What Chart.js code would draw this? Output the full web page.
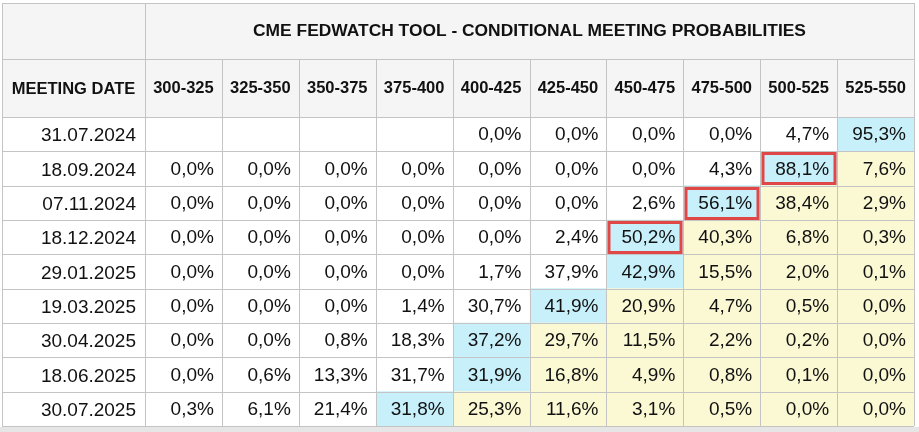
<!DOCTYPE html>
<html>
<head>
<meta charset="utf-8">
<script src="https://cdn.jsdelivr.net/npm/chart.js@4.4.1/dist/chart.umd.min.js"></script>
<style>
html,body{margin:0;padding:0;background:#fff;}
#wrap{width:919px;height:432px;position:relative;}
</style>
</head>
<body>
<div id="wrap"><canvas id="c" width="919" height="432"></canvas></div>
<script>
// ---------- data ----------
const tableTitle = 'CME FEDWATCH TOOL - CONDITIONAL MEETING PROBABILITIES';
const dateHeader = 'MEETING DATE';
const rateRanges = ['300-325','325-350','350-375','375-400','400-425','425-450','450-475','475-500','500-525','525-550'];
const meetingDates = ['31.07.2024','18.09.2024','07.11.2024','18.12.2024','29.01.2025','19.03.2025','30.04.2025','18.06.2025','30.07.2025'];

const prob_31_07_2024 = [null, null, null, null, 0.0, 0.0, 0.0, 0.0, 4.7, 95.3];
const prob_18_09_2024 = [0.0, 0.0, 0.0, 0.0, 0.0, 0.0, 0.0, 4.3, 88.1, 7.6];
const prob_07_11_2024 = [0.0, 0.0, 0.0, 0.0, 0.0, 0.0, 2.6, 56.1, 38.4, 2.9];
const prob_18_12_2024 = [0.0, 0.0, 0.0, 0.0, 0.0, 2.4, 50.2, 40.3, 6.8, 0.3];
const prob_29_01_2025 = [0.0, 0.0, 0.0, 0.0, 1.7, 37.9, 42.9, 15.5, 2.0, 0.1];
const prob_19_03_2025 = [0.0, 0.0, 0.0, 1.4, 30.7, 41.9, 20.9, 4.7, 0.5, 0.0];
const prob_30_04_2025 = [0.0, 0.0, 0.8, 18.3, 37.2, 29.7, 11.5, 2.2, 0.2, 0.0];
const prob_18_06_2025 = [0.0, 0.6, 13.3, 31.7, 31.9, 16.8, 4.9, 0.8, 0.1, 0.0];
const prob_30_07_2025 = [0.3, 6.1, 21.4, 31.8, 25.3, 11.6, 3.1, 0.5, 0.0, 0.0];

const probabilityRows = [prob_31_07_2024, prob_18_09_2024, prob_07_11_2024, prob_18_12_2024,
  prob_29_01_2025, prob_19_03_2025, prob_30_04_2025, prob_18_06_2025, prob_30_07_2025];

const highlightedMeetings = ['18.09.2024', '07.11.2024', '18.12.2024'];

// ---------- styles ----------
const FONT = "'Liberation Sans', Arial, Helvetica, sans-serif";
const TEXT = '#111111';
const GRID = '#c4c4c4';
const HEADER_BG = '#f5f5f6';
const MAX_BG = '#c8f0fa';
const ABOVE_BG = '#fbf8d4';
const CELL_BG = '#ffffff';
const RED = '#e04848';

function maxIndex(row) {
  let mi = -1, mv = -Infinity;
  row.forEach((v, i) => { if (v !== null && v > mv) { mv = v; mi = i; } });
  return mi;
}
function cellColor(r, c) {
  const row = probabilityRows[r];
  const mi = maxIndex(row);
  if (row[c] === null) return CELL_BG;
  if (c === mi) return MAX_BG;
  if (c > mi) return ABOVE_BG;
  return CELL_BG;
}
function fmt(v) { return v.toFixed(1).replace('.', ',') + '%'; }

const datasets = rateRanges.map((rate, c) => ({
  label: rate,
  data: meetingDates.map(() => 1),
  backgroundColor: ctx => cellColor(ctx.dataIndex, c),
  borderWidth: 0,
  barPercentage: 1,
  categoryPercentage: 1,
  xAxisID: 'x',
  yAxisID: 'y'
}));

function fixBox(w, h) {
  return s => {
    if (w !== null) s.width = w;
    if (h !== null) s.height = h;
    s.paddingTop = 0; s.paddingBottom = 0; s.paddingLeft = 0; s.paddingRight = 0;
  };
}

const tablePlugin = {
  id: 'tablePlugin',
  beforeDraw(chart) {
    const {ctx, width, height} = chart;
    const x2 = chart.scales.x2, y = chart.scales.y;
    ctx.save();
    ctx.fillStyle = '#ffffff';
    ctx.fillRect(0, 0, width, height);
    ctx.fillStyle = HEADER_BG;
    ctx.fillRect(y.left, x2.top, x2.right - y.left, x2.bottom - x2.top);
    ctx.fillStyle = '#e6e6e6';
    ctx.fillRect(0, chart.chartArea.bottom + 1, width, height - chart.chartArea.bottom - 1);
    ctx.restore();
  },
  afterDatasetsDraw(chart) {
    const {ctx, chartArea} = chart;
    const xs = chart.scales.x, x2 = chart.scales.x2, ys = chart.scales.y;
    const left = ys.left, right = xs.getPixelForValue(rateRanges.length);
    const top = x2.top, bottom = chartArea.bottom;
    const split = Math.round(x2.top + (x2.bottom - x2.top) / 2) - 1;
    const px = v => Math.round(v) + 0.5;
    ctx.save();
    ctx.strokeStyle = GRID;
    ctx.lineWidth = 1;
    ctx.beginPath();
    [top, split].forEach(yy => { ctx.moveTo(left, px(yy)); ctx.lineTo(right, px(yy)); });
    for (let r = 0; r <= meetingDates.length; r++) {
      const yy = ys.getPixelForValue(r - 0.5);
      ctx.moveTo(left, px(yy)); ctx.lineTo(right, px(yy));
    }
    ctx.moveTo(px(left), top); ctx.lineTo(px(left), bottom);
    for (let c = 0; c <= rateRanges.length; c++) {
      const xx = xs.getPixelForValue(c);
      const y0 = (c === 0 || c === rateRanges.length) ? top : split;
      ctx.moveTo(px(xx), y0); ctx.lineTo(px(xx), bottom);
    }
    ctx.stroke();

    ctx.fillStyle = TEXT;
    ctx.font = 'bold 16.5px ' + FONT;
    ctx.textAlign = 'center';
    ctx.textBaseline = 'middle';
    ctx.fillText(dateHeader, (left + xs.getPixelForValue(0)) / 2, (split + x2.bottom) / 2 + 1);

    ctx.font = '19px ' + FONT;
    ctx.textAlign = 'right';
    probabilityRows.forEach((row, r) => {
      const yc = ys.getPixelForValue(r);
      row.forEach((v, c) => {
        if (v === null) return;
        ctx.fillText(fmt(v), xs.getPixelForValue(c + 1) - 8, yc + 1);
      });
    });

    ctx.strokeStyle = RED;
    ctx.lineWidth = 3;
    highlightedMeetings.forEach(d => {
      const r = meetingDates.indexOf(d);
      if (r < 0) return;
      const c = maxIndex(probabilityRows[r]);
      const x0 = xs.getPixelForValue(c), x1 = xs.getPixelForValue(c + 1);
      const y0 = ys.getPixelForValue(r - 0.5), y1 = ys.getPixelForValue(r + 0.5);
      ctx.strokeRect(Math.round(x0) + 3, Math.round(y0) + 2.5, Math.round(x1 - x0) - 5, Math.round(y1 - y0) - 4);
    });
    ctx.restore();
  }
};

new Chart(document.getElementById('c'), {
  type: 'bar',
  data: { labels: meetingDates, datasets },
  options: {
    indexAxis: 'y',
    responsive: false,
    animation: false,
    events: [],
    layout: { padding: { left: 2, top: 3, right: 5, bottom: 6 } },
    plugins: { legend: { display: false }, tooltip: { enabled: false }, title: { display: false } },
    scales: {
      x: { type: 'linear', stacked: true, min: 0, max: rateRanges.length, display: false },
      x2: {
        type: 'category', labels: rateRanges, position: 'top', offset: true,
        grid: { display: false, drawTicks: false }, border: { display: false },
        ticks: { font: { family: FONT, size: 16.5, weight: 'bold' }, color: TEXT, padding: 19, maxRotation: 0, autoSkip: false },
        title: { display: true, text: tableTitle, color: TEXT, font: { family: FONT, size: 17.4, weight: 'bold' }, padding: { top: 18, bottom: 0 } },
        afterFit: fixBox(null, 114)
      },
      y: {
        type: 'category', stacked: true, offset: true,
        grid: { display: false, drawTicks: false }, border: { display: false },
        ticks: { font: { family: FONT, size: 19 }, color: TEXT, padding: 9, crossAlign: 'near', autoSkip: false, labelOffset: 2 },
        afterFit: fixBox(143, null)
      }
    }
  },
  plugins: [tablePlugin]
});
</script>
</body>
</html>
